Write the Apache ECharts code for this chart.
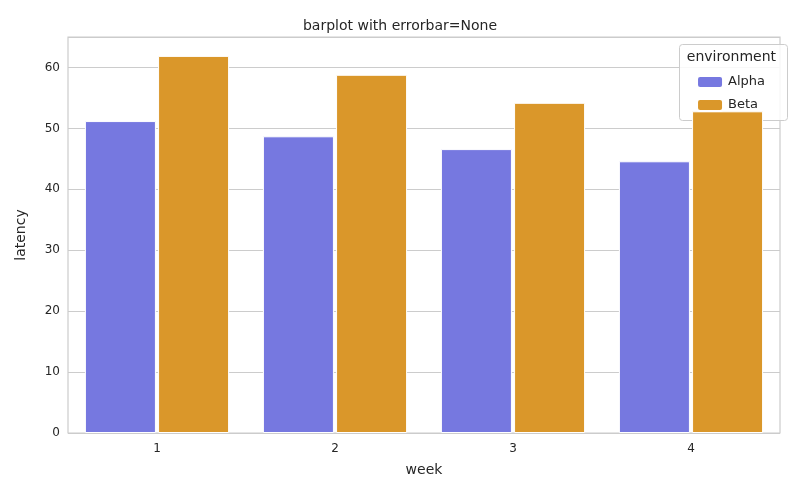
<!DOCTYPE html>
<html><head><meta charset="utf-8">
<script src="https://cdn.jsdelivr.net/npm/echarts@6/dist/echarts.min.js"></script>
<style>html,body{margin:0;padding:0;background:#fff}#c{width:800px;height:500px}</style>
</head><body><div id="c"></div>
<script>
const categories = ['1','2','3','4'];
const alpha = [51.2, 48.7, 46.6, 44.6];
const beta = [61.9, 58.8, 54.2, 52.8];
const chart = echarts.init(document.getElementById('c'));
const font = 'DejaVu Sans';
chart.setOption({
  animation:false,
  textStyle:{fontFamily:font},
  title:{text:'barplot with errorbar=None',left:'center',top:14,textStyle:{fontSize:14,fontWeight:'normal',color:'#262626',fontFamily:font}},
  grid:{left:68,right:20,top:37,bottom:67,show:true,borderColor:'#cccccc',borderWidth:1.2},
  xAxis:{type:'category',data:categories,name:'week',nameLocation:'middle',nameGap:30,
    nameTextStyle:{fontSize:14,color:'#262626'},
    axisLine:{show:false},axisTick:{show:false},axisLabel:{fontSize:12,color:'#262626',margin:10}},
  yAxis:{type:'value',min:0,max:65,interval:10,name:'latency',nameLocation:'middle',nameGap:40,
    nameTextStyle:{fontSize:14,color:'#262626'},
    axisLabel:{fontSize:12,color:'#262626',showMaxLabel:false},
    splitLine:{lineStyle:{color:'#cccccc',width:1}},axisLine:{show:false}},
  legend:{orient:'vertical',right:30,top:70,itemWidth:26,itemHeight:12,itemGap:9,
    textStyle:{fontSize:13,color:'#262626'},data:['Alpha','Beta']},
  graphic:[
    {type:'rect',right:12,top:44,shape:{width:108,height:76,r:3},style:{fill:'rgba(255,255,255,0.85)',stroke:'#cccccc',lineWidth:1},z:1},
    {type:'text',right:24,top:50,style:{text:'environment',font:'14px DejaVu Sans',fill:'#262626'},z:2}
  ],
  series:[
    {name:'Alpha',type:'bar',data:alpha,barGap:'3%',barCategoryGap:'19%',itemStyle:{color:'#7678e0',borderColor:'#fff',borderWidth:1}},
    {name:'Beta',type:'bar',data:beta,itemStyle:{color:'#da972a',borderColor:'#fff',borderWidth:1}}
  ]
});
</script></body></html>
